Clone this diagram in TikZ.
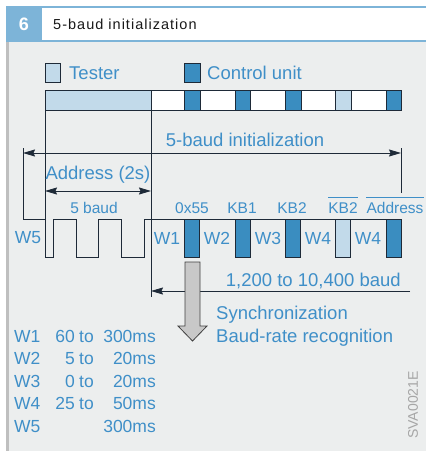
\documentclass[tikz,border=0pt]{standalone}
\usepackage{fontspec}
\setmainfont{Liberation Sans}
\newfontfamily\titlefont[LetterSpace=7]{Liberation Sans}
\usetikzlibrary{arrows.meta}
\definecolor{hdrblue}{HTML}{7DB4D8}
\definecolor{cublue}{HTML}{3A8DC0}
\definecolor{tsblue}{HTML}{C2DAEA}
\definecolor{txtblue}{HTML}{3F8FC8}
\definecolor{panel}{HTML}{ECEEEE}
\definecolor{arrowgray}{HTML}{C8C8C8}
\definecolor{linedark}{HTML}{1E2A38}
\begin{document}
\begin{tikzpicture}[x=1pt, y=-1pt,
  every node/.style={inner sep=0pt, text=txtblue},
  lbl/.style={font=\fontsize{18.5}{20}\selectfont},
  sig/.style={font=\fontsize{15.5}{17}\selectfont},
  wlbl/.style={font=\fontsize{17.5}{19}\selectfont},
  idle/.style={draw=linedark, fill=white, line width=0.8pt},
  tester/.style={draw=linedark, fill=tsblue, line width=0.8pt},
  ctrl/.style={draw=linedark, fill=cublue, line width=0.8pt},
  wire/.style={draw=linedark, line width=0.9pt},
  bar/.style={txtblue, line width=0.6pt},
  >={Stealth[length=12pt, width=7pt, inset=1.5pt]}
]
\useasboundingbox (0,0) rectangle (426,455);
% frame and header
\fill[panel] (6,41) rectangle (426,451);
\fill[black!25] (6,41) rectangle (8.5,451);
\fill[hdrblue] (6,6) rectangle (426,42);
\fill[white] (42,8) rectangle (426,39.5);
\node[text=white, font=\bfseries\fontsize{18}{20}\selectfont] (num) at (24,24) {6};
\node[text=black!90, anchor=base west, font=\titlefont\fontsize{14.5}{16}\selectfont]
  (title) at (53,29.5) {5-baud initialization};

% legend
\draw[tester] (45,63) rectangle (60,82);
\node[lbl, anchor=base west] (tstxt) at (69,79) {Tester};
\draw[ctrl] (184,63) rectangle (200,82);
\node[lbl, anchor=base west] (cutxt) at (207,79) {Control unit};

% message bar
\foreach \a/\b/\s in {45/151/tester, 151/184/idle, 184/200/ctrl, 200/235/idle,
    235/250/ctrl, 250/285/idle, 285/301/ctrl, 301/335/idle, 335/351/tester,
    351/386/idle, 386/401/ctrl}
  \draw[\s] (\a,90) rectangle (\b,110);

% signal
\draw[wire] (23,148) -- (23,219) -- (45,219) -- (45,257) -- (53,257) -- (53,219)
  -- (76,219) -- (76,257) -- (98,257) -- (98,219) -- (121,219) -- (121,257)
  -- (144,257) -- (144,219) -- (401,219);
\draw[wire] (45,110) -- (45,257);
\draw[wire] (151,110) -- (151,297);
\draw[wire] (401,148) -- (401,193);
\foreach \a/\s in {184/ctrl, 235/ctrl, 285/ctrl, 335/tester, 386/ctrl}
  \draw[\s] (\a,219) rectangle ++(15.5,38);

% dimension arrows
\coordinate (extL) at (23,153);
\coordinate (extR) at (401,153);
\coordinate (adrL) at (45,191);
\coordinate (adrR) at (151,191);
\coordinate (baudR) at (410,291);
\coordinate (baudL) at (151,291);
\draw[wire, <->] (extL) -- (extR);
\draw[wire, <->] (adrL) -- (adrR);
\draw[wire, ->] (baudR) -- (baudL);

\node[lbl] (init) at (245,140) {5-baud initialization};
\node[lbl] (adr2s) at (98,175) {Address (2s)};
\node[sig] (fivebaud) at (94,208) {5 baud};
\node[sig] (sync) at (192,208) {0x55};
\node[sig] (kb1) at (242,208) {KB1};
\node[sig] (kb2) at (292,208) {KB2};
\node[sig] (kb2n) at (343,208) {KB2};
\node[sig] (adrn) at (395,208) {Address};
\draw[bar] ([yshift=5pt]kb2n.north west) -- ([yshift=5pt]kb2n.north east);
\draw[bar] ([yshift=5pt]adrn.north west) -- ([yshift=5pt]adrn.north east);

\foreach \t/\x [count=\i] in {W5/28, W1/167, W2/217, W3/268, W4/318, W4/368}
  \node[wlbl] (wait\i) at (\x,238) {\t};

% baud-rate recognition
\draw[draw=black!75, fill=arrowgray, line width=0.8pt] (185,262) -- (200,262)
  -- (200,326) -- (207,326) -- (192.5,341) -- (178,326) -- (185,326) -- cycle;
\node[lbl, anchor=base east] (rate) at (401,286) {1,200 to 10,400 baud};
\node[lbl, anchor=base west] (synctxt) at (216,319) {Synchronization};
\node[lbl, anchor=base west] (recog) at (216,342) {Baud-rate recognition};

% waiting times
\foreach \w/\a/\t/\b [count=\i] in {W1/60/to/300, W2/5/to/20, W3/0/to/20,
    W4/25/to/50, W5///300} {
  \node[wlbl, anchor=base west] (tw\i) at (14,{342+22.5*(\i-1)}) {\w};
  \node[wlbl, anchor=base east] (tmin\i) at (75,{342+22.5*(\i-1)}) {\a};
  \node[wlbl, anchor=base west] (tto\i) at (79,{342+22.5*(\i-1)}) {\t};
  \node[wlbl, anchor=base east] (tmax\i) at (156,{342+22.5*(\i-1)}) {\b ms};
}

\node[text=black!35, rotate=90, font=\fontsize{14}{16}\selectfont] (code) at (413,405) {SVA0021E};
\end{tikzpicture}
\end{document}
